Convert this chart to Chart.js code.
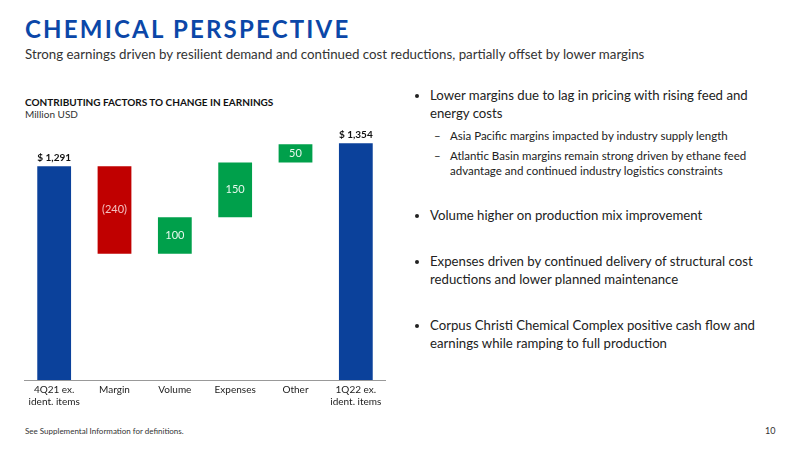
<!DOCTYPE html>
<html><head><meta charset="utf-8">
<script src="https://cdn.jsdelivr.net/npm/chart.js@4"></script>
<style>
body{margin:0;width:800px;height:450px;background:#fff;font-family:Lato,"Open Sans",sans-serif;position:relative;overflow:hidden;color:#222}
.t{position:absolute;left:25px;top:14px;font-size:24px;font-weight:bold;letter-spacing:2.2px;color:#0b47a8}
.s{position:absolute;left:25px;top:46px;font-size:13.3px;color:#333}
.h{position:absolute;left:25px;top:96px;font-size:10px;font-weight:bold;color:#111}
.u{position:absolute;left:25px;top:108px;font-size:10px;color:#333}
#wrap{position:absolute;left:24px;top:130px;width:362px;height:282px}
ul{position:absolute;left:412px;top:86px;width:350px;margin:0;padding:0 0 0 18px;font-size:13.2px;line-height:18px;color:#222}
ul li{margin-bottom:28px}
ul ul{position:static;width:auto;padding-left:20px;margin-top:6px;font-size:11.5px;line-height:15px;list-style:none}
ul ul li{margin-bottom:5px;position:relative}
ul ul li:before{content:"–";position:absolute;left:-16px}
.f{position:absolute;left:25px;top:426px;font-size:8px;color:#333}
.n{position:absolute;left:765px;top:425px;font-size:9px;color:#333}
</style></head><body>
<div class="t">CHEMICAL PERSPECTIVE</div>
<div class="s">Strong earnings driven by resilient demand and continued cost reductions, partially offset by lower margins</div>
<div class="h">CONTRIBUTING FACTORS TO CHANGE IN EARNINGS</div>
<div class="u">Million USD</div>
<div id="wrap"><canvas id="c"></canvas></div>
<ul>
<li>Lower margins due to lag in pricing with rising feed and energy costs
<ul><li>Asia Pacific margins impacted by industry supply length</li>
<li>Atlantic Basin margins remain strong driven by ethane feed advantage and continued industry logistics constraints</li></ul></li>
<li>Volume higher on production mix improvement</li>
<li>Expenses driven by continued delivery of structural cost reductions and lower planned maintenance</li>
<li>Corpus Christi Chemical Complex positive cash flow and earnings while ramping to full production</li>
</ul>
<div class="f">See Supplemental Information for definitions.</div>
<div class="n">10</div>
<script>
var categories = [['4Q21 ex.', 'ident. items'], 'Margin', 'Volume', 'Expenses', 'Other', ['1Q22 ex.', 'ident. items']];
var barStart = [0, 1291, 1051, 1151, 1301, 0];
var barEnd = [1291, 1051, 1151, 1301, 1351, 1354];
var valueLabels = ['$ 1,291', '(240)', '100', '150', '50', '$ 1,354'];
var colors = ['#0b419b', '#c00000', '#00a04b', '#00a04b', '#00a04b', '#0b419b'];

var data = barStart.map(function (s, i) { return [s, barEnd[i]]; });

var labelPlugin = {
    id: 'labels',
    afterDatasetsDraw: function (chart) {
        var ctx = chart.ctx;
        var meta = chart.getDatasetMeta(0);
        ctx.save();
        ctx.textAlign = 'center';
        meta.data.forEach(function (bar, i) {
            if (i === 0 || i === 5) {
                ctx.fillStyle = '#111';
                ctx.font = 'bold 10px Lato';
                ctx.textBaseline = 'bottom';
                ctx.fillText(valueLabels[i], bar.x, bar.y - 3);
            } else {
                ctx.fillStyle = i === 1 ? '#f3c0c0' : '#e8f8ee';
                ctx.font = '11px Lato';
                ctx.textBaseline = 'middle';
                ctx.fillText(valueLabels[i], bar.x, (bar.y + bar.base) / 2);
            }
        });
        ctx.restore();
    }
};

new Chart(document.getElementById('c'), {
    type: 'bar',
    data: {
        labels: categories,
        datasets: [{ data: data, backgroundColor: colors, barPercentage: 0.56, categoryPercentage: 1 }]
    },
    options: {
        responsive: true,
        maintainAspectRatio: false,
        animation: false,
        plugins: { legend: { display: false }, tooltip: { enabled: false } },
        scales: {
            y: { display: false, min: 705, max: 1390 },
            x: {
                grid: { display: false, drawTicks: false },
                border: { color: '#999' },
                ticks: { color: '#222', font: { size: 10, family: 'Lato' }, padding: 4, maxRotation: 0 }
            }
        }
    },
    plugins: [labelPlugin]
});
</script>
</body></html>
